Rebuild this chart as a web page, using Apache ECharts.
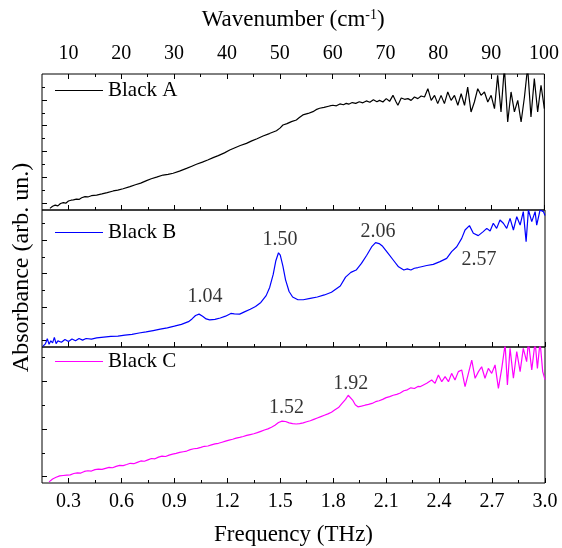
<!DOCTYPE html>
<html><head><meta charset="utf-8">
<script src="https://cdn.jsdelivr.net/npm/echarts@6/dist/echarts.min.js"></script>
<style>html,body{margin:0;padding:0;background:#fff}#c{width:562px;height:548px}</style>
</head><body><div id="c"></div><script>
// ---- data ----
const seriesNames = ['Black A', 'Black B', 'Black C'];
const seriesColors = ['#000000', '#0000ff', '#ff00ff'];

const aFreq = [0.195,0.21,0.225,0.24,0.255,0.271,0.285,0.30,0.315,0.328,0.345,0.36,0.375,0.394,0.41,0.43,0.46,0.49,0.52,0.554,0.58,0.61,0.649,0.68,0.71,0.743,0.77,0.80,0.837,0.865,0.894,0.93,0.97,1.00,1.026,1.06,1.09,1.121,1.15,1.185,1.215,1.245,1.275,1.31,1.34,1.37,1.404,1.44,1.48,1.50,1.517,1.54,1.565,1.593,1.61,1.63,1.66,1.687,1.705,1.725,1.75,1.782,1.80,1.82,1.84,1.86,1.876,1.89,1.91,1.93,1.95,1.97,1.99,2.01,2.03,2.05,
2.065,2.084,2.103,2.122,2.141,2.159,2.169,2.188,2.207,2.226,2.244,2.263,2.282,2.301,2.32,2.339,2.358,2.377,2.395,2.414,2.433,2.452,2.471,2.49,2.509,2.528,2.547,2.565,2.584,2.603,2.622,2.641,2.66,2.679,2.698,2.717,2.735,2.754,2.773,2.792,2.811,2.83,2.849,2.868,2.887,2.905,2.924,2.943,2.962,2.981,3.0];
const aVal = [0.12,0.28,0.36,0.30,0.48,0.54,0.50,0.66,0.72,0.74,0.80,0.78,0.90,0.98,0.96,1.05,1.10,1.18,1.28,1.40,1.46,1.56,1.72,1.86,1.98,2.16,2.30,2.42,2.57,2.62,2.70,2.86,3.06,3.22,3.36,3.52,3.68,3.85,4.00,4.20,4.41,4.58,4.74,4.90,5.08,5.24,5.44,5.62,5.83,6.02,6.25,6.35,6.50,6.62,6.80,6.99,7.10,7.23,7.38,7.48,7.55,7.65,7.70,7.66,7.80,7.74,7.84,7.78,7.90,7.84,7.96,7.88,8.02,7.92,8.10,7.96,
8.06,7.94,8.19,7.99,8.43,7.94,7.70,8.24,8.14,8.19,8.06,8.31,8.19,8.38,8.31,8.92,8.06,8.43,7.82,8.43,7.82,8.68,8.06,8.43,7.70,8.55,7.70,9.04,7.21,7.94,8.92,8.43,8.68,7.94,8.43,7.45,9.90,7.21,10.5,6.47,8.68,7.21,8.06,6.47,8.31,10.5,6.84,9.66,7.21,9.17,7.45];

const bFreq = [0.155,0.17,0.18,0.19,0.20,0.21,0.22,0.23,0.24,0.26,0.28,0.30,0.32,0.34,0.36,0.38,0.40,0.43,0.46,0.50,0.54,0.58,0.62,0.66,0.70,0.74,0.78,0.82,0.86,0.90,0.94,0.98,1.00,1.02,1.04,1.06,1.08,1.10,1.13,1.16,1.19,1.22,1.24,1.27,1.30,1.33,1.36,1.39,1.42,1.44,1.46,1.475,1.49,1.50,1.515,1.53,1.55,1.57,1.60,1.63,1.67,1.71,1.75,1.79,1.84,1.87,1.90,1.93,1.96,1.99,2.02,2.04,2.06,2.08,2.11,2.14,2.17,2.20,2.22,2.24,2.26,2.28,
2.30,2.33,2.367,2.405,2.443,2.471,2.50,2.528,2.547,2.572,2.594,2.622,2.65,2.67,2.689,2.707,2.726,2.745,2.764,2.783,2.802,2.821,2.84,2.859,2.877,2.893,2.906,2.925,2.944,2.953,2.972,2.991,3.0];
const bVal = [0.05,0.25,0.60,0.20,0.45,0.30,0.70,0.25,0.45,0.35,0.55,0.40,0.58,0.45,0.62,0.50,0.62,0.58,0.66,0.72,0.78,0.80,0.86,0.92,1.02,1.10,1.20,1.30,1.40,1.52,1.65,1.85,2.05,2.30,2.40,2.25,2.05,1.98,2.02,2.12,2.25,2.45,2.42,2.40,2.58,2.75,2.95,3.25,3.75,4.35,5.30,6.30,6.88,6.70,5.90,4.90,4.05,3.65,3.45,3.45,3.55,3.65,3.80,4.00,4.45,5.10,5.45,5.62,6.10,6.70,7.35,7.62,7.55,7.35,6.85,6.35,5.85,5.62,5.70,5.62,5.75,5.80,
5.86,5.95,6.03,6.23,6.47,6.96,7.32,7.93,8.54,8.86,8.30,8.13,8.42,8.66,8.47,9.03,8.66,9.27,9.03,8.66,9.39,8.54,9.51,8.90,9.88,7.69,10.0,9.15,9.88,8.90,10.0,9.88,9.6];

const cFreq = [0.19,0.21,0.23,0.25,0.27,0.29,0.31,0.33,0.35,0.37,0.39,0.41,0.43,0.45,0.47,0.49,0.51,0.53,0.55,0.57,0.59,0.61,0.63,0.65,0.67,0.69,0.71,0.73,0.75,0.77,0.79,0.81,0.83,0.85,0.87,0.89,0.91,0.93,0.95,0.97,0.99,1.01,1.03,1.05,1.07,1.09,1.11,1.13,1.15,1.17,1.19,1.21,1.23,1.25,1.27,1.29,1.31,1.33,1.35,1.37,1.39,1.41,1.43,1.45,1.47,1.49,1.51,1.53,1.55,1.57,1.59,1.61,1.63,1.65,1.67,1.69,1.71,1.73,1.75,1.77,1.79,1.81,1.83,1.85,1.87,1.885,1.895,1.91,1.925,1.94,1.96,1.98,2.00,2.02,2.04,2.06,2.08,2.10,2.12,2.14,2.16,2.18,2.20,2.22,2.24,2.26,2.28,
2.292,2.33,2.358,2.377,2.396,2.415,2.434,2.453,2.471,2.49,2.509,2.528,2.547,2.566,2.585,2.604,2.623,2.641,2.66,2.679,2.698,2.717,2.736,2.755,2.774,2.787,2.802,2.821,2.84,2.859,2.877,2.896,2.906,2.925,2.944,2.957,2.972,2.987,3.0];
const cVal = [0.08,0.30,0.42,0.52,0.55,0.58,0.60,0.70,0.75,0.73,0.85,0.90,0.88,0.98,1.02,1.00,1.08,1.15,1.12,1.22,1.30,1.28,1.36,1.45,1.42,1.52,1.62,1.60,1.70,1.80,1.78,1.90,1.98,1.95,2.05,2.12,2.18,2.25,2.30,2.35,2.45,2.52,2.55,2.62,2.70,2.72,2.80,2.88,2.92,3.00,3.08,3.15,3.22,3.30,3.35,3.42,3.50,3.56,3.62,3.70,3.80,3.90,3.98,4.10,4.25,4.45,4.55,4.52,4.42,4.36,4.34,4.36,4.42,4.50,4.58,4.68,4.78,4.88,4.98,5.08,5.20,5.38,5.55,5.85,6.15,6.45,6.48,6.10,5.75,5.60,5.65,5.72,5.78,5.85,5.98,6.05,6.15,6.28,6.35,6.45,6.52,6.62,6.78,6.85,7.00,6.95,7.10,
7.08,7.33,7.57,7.33,7.94,7.45,7.82,7.45,8.06,7.57,8.19,8.31,7.08,8.06,9.04,7.70,8.19,8.55,7.70,8.43,8.06,8.68,6.96,8.43,10.2,7.21,9.9,7.70,9.66,8.19,9.9,8.92,10.4,8.31,10.4,8.43,10.4,8.19,7.6];

// peak annotations [frequency, value, text]
const peakLabelsB = [[1.073, 3.67, '1.04'], [1.498, 7.81, '1.50'], [2.054, 8.39, '2.06'], [2.626, 6.35, '2.57']];
const peakLabelsC = [[1.536, 5.51, '1.52'], [1.899, 7.28, '1.92']];

// axis ticks
const freqMajor = ['0.3','0.6','0.9','1.2','1.5','1.8','2.1','2.4','2.7','3.0'];
const freqMinor = [0.45,0.75,1.05,1.35,1.65,1.95,2.25,2.55,2.85];
const waveMajor = [10,20,30,40,50,60,70,80,90,100];
const waveMinor = [15,25,35,45,55,65,75,85,95];
const yMajorA = [0.5,2.4,4.3,6.2,8.1];
const yMinorA = [1.45,3.35,5.25,7.15,9.05];
const yMajorB = [0.5,2.93,5.36,7.79];
const yMinorB = [1.72,4.15,6.58,9.01];
const yMajorC = [0.46,3.96,7.46];
const yMinorC = [2.21,5.71,9.21];

// ---- chart ----
const FONT = "'Liberation Serif','Times New Roman',serif";
const zip = (xs, ys) => xs.map((x, i) => [x, ys[i]]);
const fmin = 0.15, fmax = 3.0, wmin = 5.0, wmax = 100.07;

function axisBase(gi, pos, mn, mx, ticks, len) {
  return {
    type: 'value', gridIndex: gi, position: pos, min: mn, max: mx,
    axisLine: { show: false, onZero: false },
    splitLine: { show: false },
    axisTick: { show: true, inside: true, length: len, customValues: ticks, lineStyle: { color: '#000', width: 1 } },
    axisLabel: { show: false }
  };
}

const grids = [
  { left: 42, width: 503, top: 74, height: 136 },
  { left: 42, width: 503, top: 210, height: 137 },
  { left: 42, width: 503, top: 347, height: 136 }
].map(g => Object.assign(g, { show: true, borderColor: '#000', borderWidth: 1, backgroundColor: 'transparent' }));

const xAxes = [];
const yAxes = [];
const majY = [yMajorA, yMajorB, yMajorC], minY = [yMinorA, yMinorB, yMinorC];
const freqMajorNum = freqMajor.map(Number);
for (let g = 0; g < 3; g++) {
  const xm = axisBase(g, 'bottom', fmin, fmax, freqMajorNum, 5);
  if (g === 2) {
    xm.axisLabel = { show: true, customValues: freqMajorNum, margin: 9, color: '#000', fontSize: 20, fontFamily: FONT,
      formatter: v => v.toFixed(1) };
    xm.name = 'Frequency (THz)';
    xm.nameLocation = 'middle';
    xm.nameGap = 40;
    xm.nameTextStyle = { color: '#000', fontSize: 23, fontFamily: FONT };
  }
  xAxes.push(xm);
  xAxes.push(axisBase(g, 'bottom', fmin, fmax, freqMinor, 3));
  const ym = axisBase(g, 'left', 0, 10, majY[g], 5);
  if (g === 1) {
    ym.name = 'Absorbance (arb. un.)';
    ym.nameLocation = 'middle';
    ym.nameGap = 8;
    ym.nameTextStyle = { color: '#000', fontSize: 24, fontFamily: FONT, padding: [0, 0, 0, 22] };
  }
  yAxes.push(ym);
  yAxes.push(axisBase(g, 'left', 0, 10, minY[g], 3));
}
// top wavenumber axis on the first grid
const wTop = axisBase(0, 'top', wmin, wmax, waveMajor, 5);
wTop.axisLabel = { show: true, customValues: waveMajor, margin: 10, color: '#000', fontSize: 20, fontFamily: FONT };
wTop.name = 'Wavenumber (cm{sup|-1})';
wTop.nameLocation = 'middle';
wTop.nameGap = 42;
wTop.nameTextStyle = { color: '#000', fontSize: 23, fontFamily: FONT,
  rich: { sup: { fontSize: 14, fontFamily: FONT, color: '#000', verticalAlign: 'top', padding: [0, 0, 10, 0] } } };
xAxes.push(wTop);
xAxes.push(axisBase(0, 'top', wmin, wmax, waveMinor, 3));

const dataSets = [zip(aFreq, aVal), zip(bFreq, bVal), zip(cFreq, cVal)];
const series = dataSets.map((d, g) => ({
  name: seriesNames[g], type: 'line', xAxisIndex: g * 2, yAxisIndex: g * 2,
  data: d, symbol: 'none', showSymbol: false, clip: true, animation: false,
  lineStyle: { color: seriesColors[g], width: 1.2 }, itemStyle: { color: seriesColors[g] }
}));
function labelSeries(g, arr) {
  return { name: 'peaks' + g, type: 'scatter', xAxisIndex: g * 2, yAxisIndex: g * 2, data: arr,
    symbolSize: 1, itemStyle: { color: 'rgba(0,0,0,0)' }, animation: false, silent: true,
    label: { show: true, position: 'inside', formatter: p => p.data[2], color: '#000', fontSize: 20, fontFamily: FONT } };
}
series.push(labelSeries(1, peakLabelsB));
series.push(labelSeries(2, peakLabelsC));

const legendTops = [80, 222, 351];
const legends = seriesNames.map((n, g) => ({
  data: [{ name: n, icon: 'rect' }], left: 55, top: legendTops[g], padding: 0, itemWidth: 48, itemHeight: 1.2, itemGap: 0,
  itemStyle: { color: seriesColors[g] },
  textStyle: { color: '#000', fontSize: 21, fontFamily: FONT }, selectedMode: false
}));

const chart = echarts.init(document.getElementById('c'), null, { renderer: 'canvas' });
chart.setOption({
  backgroundColor: '#fff', animation: false,
  grid: grids, xAxis: xAxes, yAxis: yAxes, legend: legends, series: series
});
</script></body></html>
